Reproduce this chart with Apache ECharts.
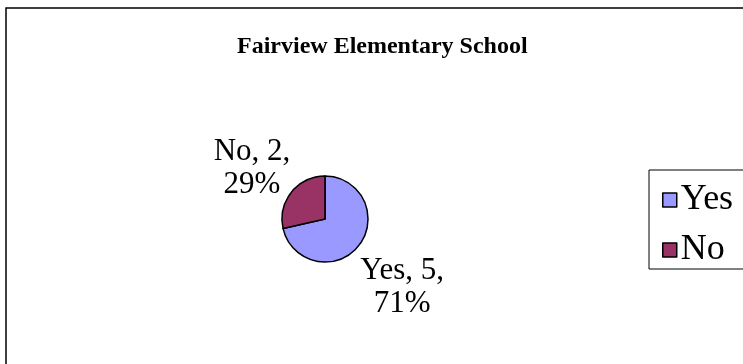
<!DOCTYPE html>
<html>
<head>
<meta charset="utf-8">
<script src="https://cdn.jsdelivr.net/npm/echarts@6/dist/echarts.min.js"></script>
<style>
  html, body { margin: 0; padding: 0; background: #fff; }
  #chart { width: 743px; height: 364px; }
</style>
</head>
<body>
<div id="chart"></div>
<script>
// Survey responses for one school
const categories = ['Yes', 'No'];
const counts = [5, 2];
const sliceColors = ['#9999FF', '#993366'];
const chartTitle = 'Fairview Elementary School';

const total = counts.reduce((a, b) => a + b, 0);
const pieData = categories.map((name, i) => ({
  name: name,
  value: counts[i],
  itemStyle: { color: sliceColors[i] }
}));

const serif = '"Liberation Serif", "Times New Roman", serif';
const chart = echarts.init(document.getElementById('chart'), null, { renderer: 'canvas' });

chart.setOption({
  backgroundColor: '#ffffff',
  animation: false,
  graphic: [{
    type: 'rect',
    shape: { x: 6, y: 8, width: 800, height: 400 },
    style: { fill: 'none', stroke: '#000', lineWidth: 1.5 },
    silent: true
  }],
  title: {
    text: chartTitle,
    left: 232,
    top: 30,
    textStyle: { fontFamily: serif, fontWeight: 'bold', fontSize: 24, color: '#000' }
  },
  legend: {
    orient: 'vertical',
    left: 649,
    top: 170,
    padding: [12, 30, 1, 13],
    itemWidth: 14,
    itemHeight: 14,
    itemGap: 14,
    borderColor: '#000',
    borderWidth: 1,
    icon: 'rect',
    itemStyle: { borderColor: '#000', borderWidth: 1.5 },
    textStyle: { fontFamily: serif, fontSize: 36, lineHeight: 35, color: '#000', padding: [0, 0, 0, -1] },
    data: categories
  },
  series: [{
    type: 'pie',
    center: [325, 219],
    radius: 43,
    startAngle: 90,
    clockwise: true,
    avoidLabelOverlap: false,
    itemStyle: { borderColor: '#000', borderWidth: 1.5 },
    label: {
      show: true,
      position: 'outside',
      distanceToLabelLine: 0,
      fontFamily: serif,
      fontSize: 31,
      lineHeight: 33,
      color: '#000',
      formatter: p => p.name + ', ' + p.value + ',\n' + Math.round(p.value / total * 100) + '%'
    },
    labelLine: { show: false, length: 53, length2: 0 },
    labelLayout: () => ({ align: 'center', verticalAlign: 'middle', dx: 2, dy: 9 }),
    emphasis: { disabled: true },
    data: pieData
  }]
});
</script>
</body>
</html>
